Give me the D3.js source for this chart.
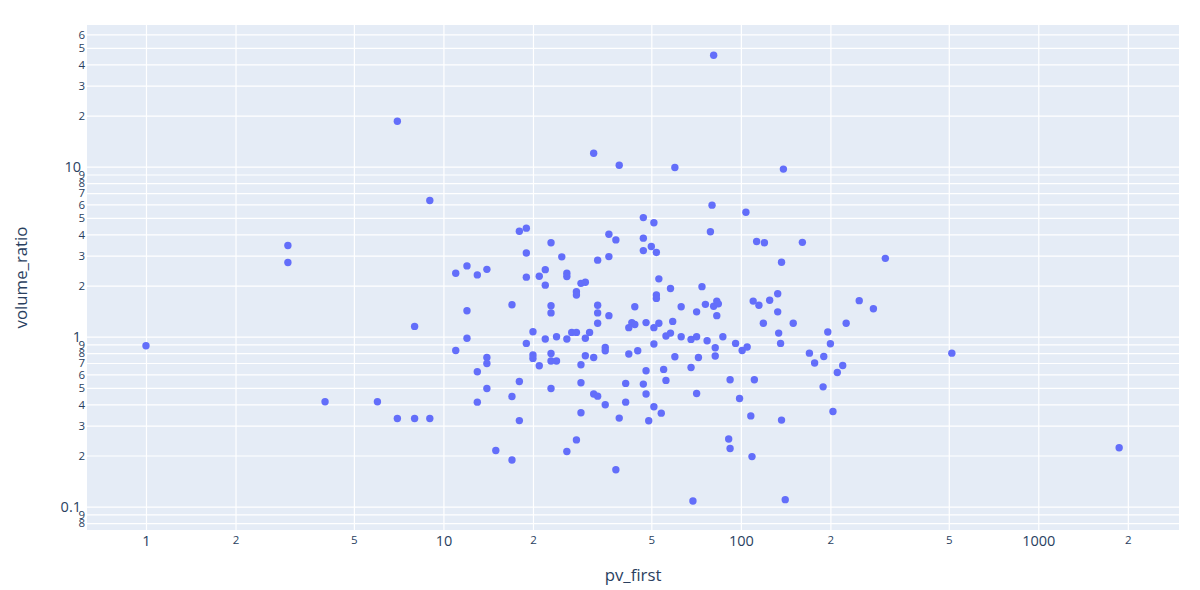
<!DOCTYPE html>
<html lang="en">
<head>
<meta charset="UTF-8">
<title>volume_ratio vs pv_first</title>
<script src="https://d3js.org/d3.v7.min.js"></script>
<style>
  body { margin: 0; background: #fff; }
  svg text { font-family: "Open Sans", verdana, arial, sans-serif; fill: #2a3f5f; }
</style>
</head>
<body>
<svg id="chart" width="1200" height="590"></svg>
<script>
// values
var pvFirst = [
  1, 3, 3, 4, 6, 7, 7, 8, 8, 9, 9,
  32, 18, 19, 23, 19, 25, 33, 12, 11, 13, 14, 19, 22, 21, 26, 26, 22, 29, 30, 28, 28, 17, 12, 23, 23, 33, 33,
  12, 11, 14, 14, 13, 14, 13, 18, 17, 18, 15, 17, 20, 19, 22, 24, 26, 27, 28, 30, 31, 33,
  20, 20, 23, 23, 24, 21, 30, 32, 29, 29, 23, 32, 33, 29, 28, 26,
  39, 60, 139, 80, 104, 47, 51, 79, 36, 38, 47, 50, 47, 52, 113, 120, 161, 36, 137, 53, 58, 74, 52, 52,
  44, 36, 63, 71, 76, 81, 83, 84, 83, 110, 115, 125, 133, 133,
  43, 44, 42, 48, 53, 51, 59, 119, 150, 35, 35, 42, 45, 51, 56, 58, 63, 68, 71, 77, 82, 82, 87, 96, 101, 105,
  134, 136, 60, 72, 68, 48, 55, 41, 47, 56, 92, 111, 48, 71, 35, 41, 51, 54, 39, 49, 99, 108, 137, 91, 92,
  109, 38, 69, 141,
  306, 250, 279, 226, 196, 200, 170, 190, 177, 220, 211, 189, 204, 512, 1870, 81
];
var volumeRatio = [
  0.885, 3.44, 2.73, 0.414, 0.414, 18.5, 0.33, 1.15, 0.33, 6.33, 0.33,
  12.0, 4.17, 4.35, 3.57, 3.11, 2.95, 2.82, 2.61, 2.36, 2.31, 2.49, 2.24, 2.48, 2.27, 2.36, 2.26, 2.01, 2.06, 2.09, 1.84, 1.76, 1.54, 1.42, 1.52, 1.38, 1.53, 1.38,
  0.98, 0.83, 0.755, 0.696, 0.622, 0.496, 0.412, 0.545, 0.445, 0.321, 0.214, 0.188, 1.07, 0.913, 0.969, 1.0, 0.969, 1.06, 1.06, 0.98, 1.06, 1.2,
  0.78, 0.745, 0.797, 0.719, 0.719, 0.675, 0.773, 0.755, 0.684, 0.536, 0.496, 0.46, 0.447, 0.357, 0.247, 0.211,
  10.2, 9.9, 9.68, 5.94, 5.4, 5.02, 4.68, 4.14, 4.01, 3.71, 3.8, 3.39, 3.21, 3.13, 3.63, 3.57, 3.59, 2.96, 2.74, 2.19, 1.92, 1.97, 1.76, 1.68,
  1.5, 1.33, 1.5, 1.4, 1.55, 1.51, 1.62, 1.56, 1.33, 1.62, 1.53, 1.64, 1.79, 1.4,
  1.21, 1.18, 1.13, 1.21, 1.2, 1.13, 1.23, 1.2, 1.2, 0.865, 0.827, 0.791, 0.827, 0.906, 1.01, 1.05, 1.0, 0.964, 1.0, 0.947, 0.861, 0.77, 1.0, 0.913, 0.83, 0.87,
  1.05, 0.913, 0.762, 0.755, 0.659, 0.631, 0.642, 0.531, 0.526, 0.553, 0.558, 0.558, 0.46, 0.463, 0.398, 0.412, 0.387, 0.355, 0.332, 0.32, 0.433, 0.342, 0.323, 0.25, 0.22,
  0.197, 0.165, 0.108, 0.11,
  2.89, 1.63, 1.46, 1.2, 1.066, 0.909, 0.8, 0.765, 0.7, 0.677, 0.616, 0.507, 0.363, 0.8, 0.222, 45.3
];

var xTicks = [1, 2, 5, 10, 20, 50, 100, 200, 500, 1000, 2000];
var yTicks = [0.08, 0.09, 0.1, 0.2, 0.3, 0.4, 0.5, 0.6, 0.7, 0.8, 0.9,
              1, 2, 3, 4, 5, 6, 7, 8, 9, 10, 20, 30, 40, 50, 60];
var xTitle = "pv_first",
    yTitle = "volume_ratio";

var svg = d3.select("#chart"),
    margin = {top: 25, right: 21, bottom: 60, left: 87},
    width = 1200 - margin.left - margin.right,
    height = 590 - margin.top - margin.bottom;

var x = d3.scaleLog().domain([0.6334, 2972]).range([0, width]),
    y = d3.scaleLog().domain([0.0729, 68.2]).range([height, 0]);

var g = svg.append("g").attr("transform", "translate(" + margin.left + "," + margin.top + ")");

g.append("rect")
    .attr("width", width)
    .attr("height", height)
    .attr("fill", "#E5ECF6");

function isPow10(v) {
    var l = Math.log10(v);
    return Math.abs(l - Math.round(l)) < 1e-9;
}
function tickLabel(v) {
    if (isPow10(v)) return d3.format("~g")(v);
    return String(Math.round(v / Math.pow(10, Math.floor(Math.log10(v) + 1e-9))));
}

// gridlines
var gx = g.append("g")
    .call(d3.axisBottom(x).tickValues(xTicks).tickSize(height).tickFormat(""));
var gy = g.append("g")
    .call(d3.axisLeft(y).tickValues(yTicks).tickSize(-width).tickFormat(""));
[gx, gy].forEach(function(a) {
    a.select(".domain").remove();
    a.selectAll("line").attr("stroke", "#fff").attr("stroke-width", 1.2);
});

// tick labels
var ax = g.append("g")
    .attr("transform", "translate(0," + height + ")")
    .call(d3.axisBottom(x).tickValues(xTicks).tickSize(0).tickPadding(6).tickFormat(tickLabel));
ax.select(".domain").remove();
ax.selectAll("text")
    .attr("fill", "#2a3f5f")
    .style("font-size", function(d) { return isPow10(d) ? "14.5px" : "11.5px"; });

var ay = g.append("g")
    .call(d3.axisLeft(y).tickValues(yTicks).tickSize(0).tickFormat(tickLabel));
ay.select(".domain").remove();
ay.selectAll("text")
    .attr("fill", "#2a3f5f")
    .attr("x", function(d) { return isPow10(d) ? -6 : -2; })
    .style("font-size", function(d) { return isPow10(d) ? "14.5px" : "11.5px"; });

// points
g.append("g")
  .selectAll("circle")
  .data(pvFirst.map(function(v, i) { return [v, volumeRatio[i]]; }))
  .join("circle")
    .attr("cx", function(d) { return x(d[0]); })
    .attr("cy", function(d) { return y(d[1]); })
    .attr("r", 3.7)
    .attr("fill", "#636efa");

// axis titles
svg.append("text")
    .attr("x", margin.left + width / 2)
    .attr("y", 581)
    .attr("text-anchor", "middle")
    .style("font-size", "16.8px")
    .text(xTitle);

svg.append("text")
    .attr("transform", "translate(27," + (margin.top + height / 2) + ") rotate(-90)")
    .attr("text-anchor", "middle")
    .style("font-size", "16.8px")
    .text(yTitle);
</script>
</body>
</html>
